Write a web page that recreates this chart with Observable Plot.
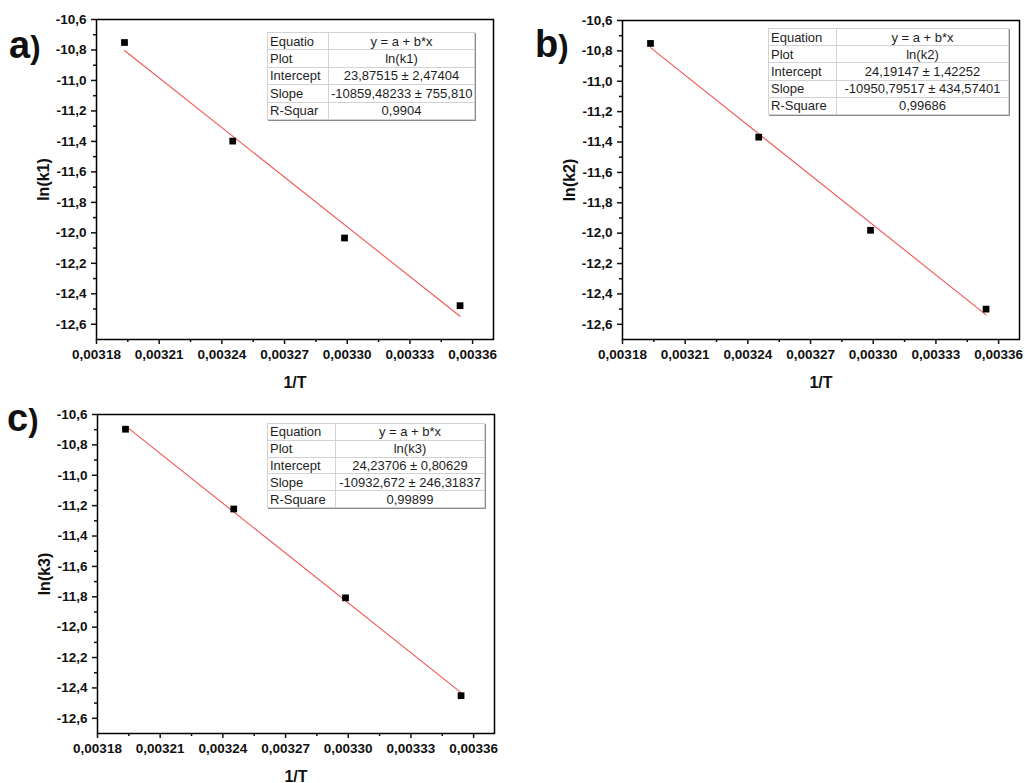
<!DOCTYPE html>
<html>
<head>
<meta charset="utf-8">
<script src="https://cdn.jsdelivr.net/npm/d3@7"></script>
<script src="https://cdn.jsdelivr.net/npm/@observablehq/plot@0.6"></script>
<style>
  body { margin: 0; background: #fff; }
  #root { position: relative; width: 1025px; height: 783px; overflow: hidden; font-family: "Liberation Sans", Arial, sans-serif; background: #fff; }
  .panel { position: absolute; }
  .panel svg { display: block; overflow: visible; }
  table.fit { position: absolute; border-collapse: collapse; table-layout: fixed; font-size: 13px; color: #1e1e1e; background: #fff;
              border: 1px solid #a8a8a8; box-shadow: 1px 1px 0 #8c8c8c; }
  table.fit td { border: 1px solid #d2d2d2; padding: 0 2px; white-space: nowrap; overflow: hidden; line-height: 15px; }
  table.fit td.v { text-align: center; }
</style>
</head>
<body>
<div id="root"></div>
<script>
// ---------- data ----------
const invT = [0.0031934, 0.0032452, 0.0032987, 0.0033540];
const lnK1 = [-10.751, -11.398, -12.034, -12.478];
const lnK2 = [-10.751, -11.368, -11.981, -12.500];
const lnK3 = [-10.697, -11.222, -11.807, -12.451];
const intercepts = [23.87515, 24.19147, 24.23706];
const slopes = [-10859.48233, -10950.79517, -10932.672];
const xTicks = [0.00318, 0.00321, 0.00324, 0.00327, 0.00330, 0.00333, 0.00336];
const yTicks = [-10.6, -10.8, -11.0, -11.2, -11.4, -11.6, -11.8, -12.0, -12.2, -12.4, -12.6];
const xDomain = [0.00318, 0.00337];
const yDomain = [-12.7, -10.6];
const yLabels = ["ln(k1)", "ln(k2)", "ln(k3)"];
const xLabel = "1/T";
const panelTags = ["a", "b", "c"];
const tableKeysA = ["Equatio", "Plot", "Intercept", "Slope", "R-Squar"];
const tableKeysBC = ["Equation", "Plot", "Intercept", "Slope", "R-Square"];
const tableValsA = ["y = a + b*x", "ln(k1)", "23,87515 ± 2,47404", "-10859,48233 ± 755,810", "0,9904"];
const tableValsB = ["y = a + b*x", "ln(k2)", "24,19147 ± 1,42252", "-10950,79517 ± 434,57401", "0,99686"];
const tableValsC = ["y = a + b*x", "ln(k3)", "24,23706 ± 0,80629", "-10932,672 ± 246,31837", "0,99899"];

const series = [lnK1, lnK2, lnK3];
const tableKeys = [tableKeysA, tableKeysBC, tableKeysBC];
const tableVals = [tableValsA, tableValsB, tableValsC];

// ---------- layout ----------
const layouts = [
  {left: 0,   top: 0,   width: 512, height: 392, mt: 19, mr: 19, mb: 53, ml: 96,  tag: {x: 9,  y: 58}, table: {left: 267, top: 32, width: 208, height: 88, c1: 56}},
  {left: 520, top: 0,   width: 505, height: 392, mt: 20, mr: 6,  mb: 53, ml: 102, tag: {x: 15, y: 57}, table: {left: 248, top: 28, width: 241, height: 87, c1: 63}},
  {left: 0,   top: 395, width: 512, height: 388, mt: 19, mr: 18, mb: 50, ml: 97,  tag: {x: 7,  y: 36}, table: {left: 267, top: 28, width: 218, height: 85, c1: 63}}
];

const fmtX = d => d.toFixed(5).replace(".", ",");
const fmtY = d => d.toFixed(1).replace(".", ",");
const xMinor = d3.pairs(xTicks, (a, b) => (a + b) / 2);
const yMinor = d3.pairs(yTicks, (a, b) => (a + b) / 2);

const root = document.getElementById("root");

function makeTable(keys, vals, t) {
  const table = document.createElement("table");
  table.className = "fit";
  Object.assign(table.style, {left: t.left + "px", top: t.top + "px", width: t.width + "px", height: t.height + "px"});
  keys.forEach((k, i) => {
    const tr = table.insertRow();
    const a = tr.insertCell();
    a.textContent = k;
    const b = tr.insertCell();
    b.textContent = vals[i];
    b.className = "v";
    if (i === 0) a.style.width = t.c1 + "px";
  });
  return table;
}

series.forEach((ys, i) => {
  const L = layouts[i];
  const pts = invT.map((x, j) => ({x, y: ys[j]}));
  const [x0, x1] = d3.extent(invT);
  const fit = [x0, x1].map(x => ({x, y: intercepts[i] + slopes[i] * x}));

  const plot = Plot.plot({
    width: L.width, height: L.height,
    marginTop: L.mt, marginRight: L.mr, marginBottom: L.mb, marginLeft: L.ml,
    x: {domain: xDomain, label: null},
    y: {domain: yDomain, label: null},
    style: {fontFamily: "'Liberation Sans', Arial, sans-serif", fontSize: "13.5px", fontWeight: "bold", color: "#111", background: "transparent"},
    marks: [
      Plot.line(fit, {x: "x", y: "y", stroke: "#f25656", strokeWidth: 1.1}),
      Plot.dot(pts, {x: "x", y: "y", symbol: "square", r: 3.8, fill: "#000"}),
      Plot.frame({stroke: "#000", strokeWidth: 1.5}),
      Plot.axisX(xTicks, {tickSize: 5, tickPadding: 5, tickFormat: fmtX, strokeWidth: 1.5, label: null}),
      Plot.axisX(xMinor, {tickSize: 3, tickFormat: () => "", strokeWidth: 1.5, label: null}),
      Plot.axisY(yTicks, {tickSize: 5, tickPadding: 5, tickFormat: fmtY, strokeWidth: 1.5, label: null}),
      Plot.axisY(yMinor, {tickSize: 3, tickFormat: () => "", strokeWidth: 1.5, label: null}),
      Plot.text([xLabel], {text: d => d, frameAnchor: "bottom", dy: 48, lineAnchor: "bottom", fontSize: 16, fontWeight: "bold"}),
      Plot.text([yLabels[i]], {text: d => d, frameAnchor: "left", dx: -53, rotate: -90, lineAnchor: "middle", textAnchor: "middle", fontSize: 16, fontWeight: "bold"})
    ]
  });

  // panel tag, e.g. "a)"
  const t = d3.select(plot).append("text")
    .attr("x", L.tag.x).attr("y", L.tag.y)
    .attr("text-anchor", "start")
    .attr("font-weight", "bold").attr("fill", "#111");
  t.append("tspan").attr("font-size", 38).text(panelTags[i]);
  t.append("tspan").attr("font-size", 31).text(")");

  const div = document.createElement("div");
  div.className = "panel";
  Object.assign(div.style, {left: L.left + "px", top: L.top + "px", width: L.width + "px", height: L.height + "px"});
  div.appendChild(plot);
  div.appendChild(makeTable(tableKeys[i], tableVals[i], L.table));
  root.appendChild(div);
});
</script>
</body>
</html>
